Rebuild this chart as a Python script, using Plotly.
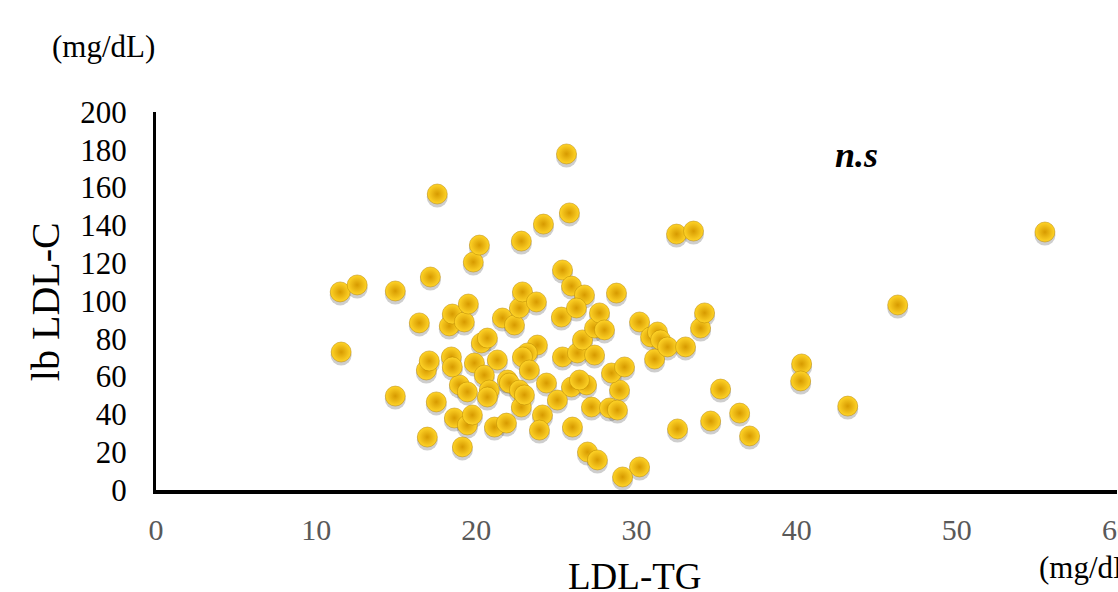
import plotly.graph_objects as go

ldl_tg = [11.5, 12.56, 11.56, 14.94, 14.94, 17.13, 17.56, 16.44, 16.94, 17.5,
          16.88, 17.06, 18.31, 18.5, 19.25, 19.5, 19.81, 20.19, 18.63, 19.13,
          18.94, 19.44, 19.44, 19.75, 18.44, 18.5, 20.31, 20.69, 19.88, 20.5,
          21.31, 20.81, 21.13, 21.88, 21.63, 22.38, 22.69, 22.88, 22.81, 23.75,
          24.19, 23.81, 23.19, 22.88, 23.31, 21.94, 22.06, 22.69, 22.81, 23.0,
          24.38, 25.06, 24.13, 23.94, 25.31, 25.38, 25.63, 25.81, 25.94, 26.75,
          26.25, 25.38, 26.31, 26.63, 27.38, 27.69, 28.0, 27.38, 26.0, 25.94,
          26.88, 26.44, 27.19, 28.31, 28.81, 28.94, 28.44, 29.25, 28.75, 26.94,
          27.56, 29.13, 30.19, 30.19, 30.88, 31.31, 31.5, 31.13, 31.94, 33.06,
          32.5, 33.56, 32.56, 34.0, 34.25, 34.63, 35.25, 36.44, 37.06, 40.31,
          40.25, 43.19, 46.31, 55.5, 20.69]
lb_ldl_c = [104.8, 108.5, 73.0, 105.3, 49.7, 112.7, 156.6, 88.4, 28.0, 46.6,
            63.5, 68.3, 86.8, 93.1, 88.9, 98.4, 120.6, 129.6, 38.1, 22.8,
            55.6, 51.9, 34.4, 39.7, 70.4, 65.1, 77.8, 80.4, 67.2, 60.8,
            68.8, 52.9, 33.3, 35.4, 91.0, 87.3, 96.3, 104.8, 131.7, 99.5,
            140.7, 76.7, 72.5, 70.4, 63.5, 58.2, 56.6, 52.9, 43.9, 50.3,
            56.6, 47.6, 39.7, 31.7, 91.5, 116.4, 177.8, 146.6, 107.9, 103.2,
            96.3, 70.4, 72.5, 79.4, 85.7, 93.7, 84.7, 71.4, 33.3, 54.5,
            55.6, 58.2, 43.9, 43.4, 42.3, 52.9, 61.9, 65.1, 104.2, 20.1,
            15.9, 6.9, 12.2, 88.9, 81.0, 83.6, 79.4, 69.3, 75.7, 75.7,
            135.4, 137.0, 32.3, 85.7, 93.7, 36.5, 53.4, 40.7, 28.6, 66.7,
            57.7, 44.4, 97.9, 136.5, 49.2]

x_ticks = [0, 10, 20, 30, 40, 50, 60]
y_ticks = [0, 20, 40, 60, 80, 100, 120, 140, 160, 180, 200]

serif = "Liberation Serif, Times New Roman, serif"

fig = go.Figure()

# soft drop shadow on an invisible overlay axis shifted a little downward
fig.add_trace(go.Scatter(
    x=ldl_tg, y=lb_ldl_c, mode="markers", xaxis="x", yaxis="y2",
    marker=dict(size=21, color="rgba(60,60,60,0.25)", line=dict(width=0)),
    hoverinfo="skip", showlegend=False))

# golden spheres on an overlay axis identical to the main one
fig.add_trace(go.Scatter(
    x=ldl_tg, y=lb_ldl_c, mode="markers", xaxis="x", yaxis="y3",
    marker=dict(size=20, color="#FFD428",
                gradient=dict(type="radial", color="#D79A00"),
                line=dict(width=0.5, color="#B88600")),
    showlegend=False))

fig.update_layout(
    width=1118, height=592,
    margin=dict(l=156, r=1, t=112, b=102, autoexpand=False),
    paper_bgcolor="white", plot_bgcolor="white",
    font=dict(family=serif, color="black"),
    xaxis=dict(range=[0, 60], tickvals=x_ticks, showgrid=False, zeroline=False,
               showline=True, linecolor="black", linewidth=4, automargin=False,
               ticks="", ticklabelstandoff=10, ticklabeloverflow="allow",
               tickfont=dict(family=serif, size=30, color="#595959")),
    yaxis=dict(range=[0, 200], tickvals=y_ticks, showgrid=False, zeroline=False,
               showline=True, linecolor="black", linewidth=3, automargin=False,
               ticks="", ticklabelstandoff=20,
               tickfont=dict(family=serif, size=31, color="black")),
    yaxis2=dict(range=[1.6, 201.6], overlaying="y", visible=False, automargin=False),
    yaxis3=dict(range=[0, 200], overlaying="y", visible=False, automargin=False),
)

fig.add_annotation(text="LDL-TG", xref="paper", yref="paper", x=0.4984, y=-0.228,
                   xanchor="center", yanchor="middle", showarrow=False,
                   font=dict(family=serif, size=37, color="black"))
fig.add_annotation(text="lb LDL-C", xref="paper", yref="paper", x=-0.1155, y=0.497,
                   xanchor="center", yanchor="middle", showarrow=False, textangle=-90,
                   font=dict(family=serif, size=40, color="black"))
fig.add_annotation(text="(mg/dL)", xref="paper", yref="paper", x=-0.1103, y=1.172,
                   xanchor="left", yanchor="middle", showarrow=False,
                   font=dict(family=serif, size=31, color="black"))
fig.add_annotation(text="(mg/dL)", xref="paper", yref="paper", x=0.9168, y=-0.2063,
                   xanchor="left", yanchor="middle", showarrow=False,
                   font=dict(family=serif, size=31, color="black"))
fig.add_annotation(text="<b><i>n.s</i></b>", xref="x", yref="y", x=43.75, y=177.2,
                   xanchor="center", yanchor="middle", showarrow=False,
                   font=dict(family=serif, size=36, color="black"))

fig.write_html("out.html", config={"displayModeBar": False},
               post_script="document.body.style.margin='0';document.body.style.overflow='hidden';")
